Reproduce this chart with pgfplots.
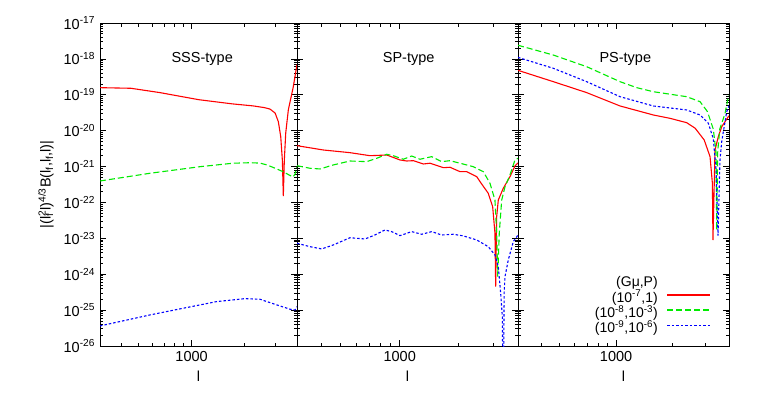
\documentclass[border=0pt]{standalone}
\usepackage{fontspec}
\setmainfont{Liberation Sans}
\usepackage{pgfplots}
\pgfplotsset{compat=1.18}
\definecolor{gpred}{RGB}{255,0,0}
\definecolor{gpgreen}{RGB}{0,235,0}
\definecolor{gpblue}{RGB}{0,0,255}

\pgfplotsset{
  rr/.style={gpred, solid, line width=1.1pt},
  gg/.style={gpgreen, dash pattern=on 6pt off 3pt, line width=1.1pt},
  bb/.style={gpblue, dash pattern=on 2.5pt off 2pt, line width=1.1pt},
}
\def\myminor{2e-26,3e-26,4e-26,5e-26,6e-26,7e-26,8e-26,9e-26,
  2e-25,3e-25,4e-25,5e-25,6e-25,7e-25,8e-25,9e-25,
  2e-24,3e-24,4e-24,5e-24,6e-24,7e-24,8e-24,9e-24,
  2e-23,3e-23,4e-23,5e-23,6e-23,7e-23,8e-23,9e-23,
  2e-22,3e-22,4e-22,5e-22,6e-22,7e-22,8e-22,9e-22,
  2e-21,3e-21,4e-21,5e-21,6e-21,7e-21,8e-21,9e-21,
  2e-20,3e-20,4e-20,5e-20,6e-20,7e-20,8e-20,9e-20,
  2e-19,3e-19,4e-19,5e-19,6e-19,7e-19,8e-19,9e-19,
  2e-18,3e-18,4e-18,5e-18,6e-18,7e-18,8e-18,9e-18}

\begin{document}
\fontsize{14.5}{17}\selectfont
\begin{tikzpicture}
\useasboundingbox (-100pt,-46pt) rectangle (663pt,346pt);

% SSS-type
\begin{axis}[xmode=log, ymode=log, scale only axis, width=197pt, height=323pt,
    anchor=south west, at={(0pt,0pt)},
    xmin=300, xmax=4000, ymin=1e-26, ymax=1e-17,
    xtick={1000}, xticklabels={1000},
    minor xtick={300,400,500,600,700,800,900,2000,3000,4000},
    ytickten={-26,...,-17}, minor ytick/.expanded={\myminor},
    major tick length=6pt, minor tick length=3.5pt,
    tick style={black, line width=0.8pt}, axis line style={line width=1pt},
    xlabel={l},
    yticklabels={10\textsuperscript{-26},10\textsuperscript{-25},10\textsuperscript{-24},10\textsuperscript{-23},10\textsuperscript{-22},10\textsuperscript{-21},10\textsuperscript{-20},10\textsuperscript{-19},10\textsuperscript{-18},10\textsuperscript{-17}},
    ylabel={|(l\rlap{\textsubscript{f}}\textsuperscript{2}l)\textsuperscript{4/3}B(l\textsubscript{f},l\textsubscript{f},l)|}]
\addplot[rr] coordinates {(300,1.58e-19) (450,1.52e-19) (660,1.15e-19) (1100,7.3e-20) (1700,5.6e-20) (2250,4.9e-20) (2600,4.4e-20) (2805,4.0e-20) (3000,3.1e-20) (3130,1.78e-20) (3230,6.8e-21) (3300,1.5e-21) (3342,1.5e-22) (3386,1.5e-21) (3449,8.6e-21) (3569,3.8e-20) (3811,1.68e-19) (4000,7.0e-19)};
\addplot[gg] coordinates {(300,3.97e-22) (579,6.51e-22) (1117,9.93e-22) (1725,1.24e-21) (2157,1.28e-21) (2459,1.25e-21) (2697,1.11e-21) (3000,9.0e-22) (3329,7.21e-22) (3650,5.65e-22) (3796,5.13e-22) (3897,6.2e-22) (4000,9.7e-22)};
\addplot[bb] coordinates {(300,3.63e-26) (579,7.35e-26) (897,1.13e-25) (1392,1.73e-25) (2020,2.09e-25) (2459,2.01e-25) (3064,1.40e-25) (3650,1.06e-25) (3897,1.01e-25) (4000,1.25e-25)};
\node at (axis cs:1150,1e-18) {SSS-type};
\end{axis}

% SP-type
\begin{axis}[xmode=log, ymode=log, scale only axis, width=221pt, height=323pt,
    anchor=south west, at={(197pt,0pt)},
    xmin=300, xmax=4000, ymin=1e-26, ymax=1e-17,
    xtick={1000}, xticklabels={1000},
    minor xtick={300,400,500,600,700,800,900,2000,3000,4000},
    ytickten={-26,...,-17}, yticklabels={}, minor ytick/.expanded={\myminor},
    major tick length=6pt, minor tick length=3.5pt,
    tick style={black, line width=0.8pt}, axis line style={line width=1pt},
    xlabel={l}]
\addplot[rr] coordinates {(300,3.82e-21) (408,2.90e-21) (558,2.44e-21) (706,2.01e-21) (859,2.10e-21) (1003,1.53e-21) (1085,1.43e-21) (1173,1.46e-21) (1318,1.18e-21) (1426,1.24e-21) (1667,9.31e-22) (1803,9.56e-22) (2027,7.21e-22) (2192,7.21e-22) (2465,5.24e-22) (2563,3.8e-22) (2823,1.8e-22) (2972,7.6e-23) (3053,1.41e-23) (3079,4.5e-25) (3115,4.0e-23) (3175,1.17e-22) (3367,2.49e-22) (3642,5.24e-22) (3861,1.04e-21) (4000,1.26e-21)};
\addplot[gg] coordinates {(300,1.06e-21) (349,8.97e-22) (393,8.58e-22) (459,1.11e-21) (558,1.43e-21) (679,1.37e-21) (763,1.70e-21) (859,2.20e-21) (927,2.01e-21) (1043,1.60e-21) (1151,1.97e-21) (1268,1.60e-21) (1455,1.89e-21) (1635,1.37e-21) (1803,1.46e-21) (2027,1.24e-21) (2369,9.93e-22) (2664,7.21e-22) (2880,3.43e-22) (3053,1.17e-22) (3115,1.41e-23) (3153,8.6e-25) (3212,1.41e-23) (3304,1.17e-22) (3435,2.75e-22) (3642,5.83e-22) (3861,1.53e-21) (4000,1.70e-21)};
\addplot[bb] coordinates {(300,7.30e-24) (349,5.87e-24) (401,5.07e-24) (459,6.55e-24) (558,1.04e-23) (666,9.61e-24) (748,1.24e-23) (841,1.71e-23) (910,1.54e-23) (1003,1.19e-23) (1151,1.54e-23) (1294,1.30e-23) (1455,1.54e-23) (1635,1.24e-23) (1874,1.30e-23) (2107,1.17e-23) (2465,9.02e-24) (2823,5.87e-24) (3053,3.45e-24) (3175,1.63e-24) (3265,2.96e-25) (3328,6.59e-26) (3367,1e-28) (3400,3e-25) (3435,8.6e-25) (3569,2.5e-24) (3785,8.1e-24) (4000,1.24e-23)};
\node at (axis cs:1110,1e-18) {SP-type};
\end{axis}

% PS-type
\begin{axis}[xmode=log, ymode=log, scale only axis, width=211pt, height=323pt,
    anchor=south west, at={(418pt,0pt)},
    xmin=300, xmax=4000, ymin=1e-26, ymax=1e-17,
    xtick={1000}, xticklabels={1000},
    minor xtick={300,400,500,600,700,800,900,2000,3000,4000},
    ytickten={-26,...,-17}, yticklabels={}, minor ytick/.expanded={\myminor},
    major tick length=6pt, minor tick length=3.5pt,
    tick style={black, line width=0.8pt}, axis line style={line width=1pt},
    xlabel={l},
    legend style={at={(0.93,0.025)}, anchor=south east, draw=none, fill=none,
      row sep=-1pt, column sep=8pt, nodes={inner sep=1pt},
      font=\fontsize{14}{16}\selectfont},
    legend cell align=right, legend plot pos=right,
    legend image code/.code={\draw[#1, line width=1.3pt] (0pt,0.3ex) -- (43pt,0.3ex);}]
\addlegendimage{empty legend}
\addlegendentry{(Gμ,P)}
\addplot[rr] coordinates {(300,4.8e-19) (463,2.32e-19) (697,1.15e-19) (1050,4.88e-20) (1579,2.74e-20) (1939,2.21e-20) (2380,1.67e-20) (2640,1.17e-20) (2950,5.51e-21) (3169,1.89e-21) (3262,3.43e-22) (3285,9.0e-24) (3369,2.9e-21) (3508,6.81e-21) (3658,1.29e-20) (3966,2.45e-20) (4000,2.6e-20)};
\addlegendentry{(10\textsuperscript{-7},1)}
\addplot[gg] coordinates {(300,2.4e-18) (463,1.28e-18) (697,6.07e-19) (1050,2.32e-19) (1288,1.58e-19) (1579,1.22e-19) (2380,8.85e-20) (2803,6.43e-20) (3070,3.4e-20) (3299,1.1e-20) (3411,2.5e-21) (3440,1.7e-23) (3480,2.5e-21) (3570,1.1e-20) (3809,3.0e-20) (3966,8.85e-20) (4000,9.5e-20)};
\addlegendentry{(10\textsuperscript{-8},10\textsuperscript{-3})}
\addplot[bb] coordinates {(300,1.1e-18) (463,5.47e-19) (697,2.32e-19) (1050,8.85e-20) (1579,4.88e-20) (2380,3.78e-20) (2803,2.74e-20) (3103,1.61e-20) (3299,6e-21) (3411,8e-22) (3495,1.2e-23) (3580,1.5e-21) (3658,5e-21) (3890,3.4e-20) (4000,4.9e-20)};
\addlegendentry{(10\textsuperscript{-9},10\textsuperscript{-6})}
\node at (axis cs:1120,1e-18) {PS-type};
\end{axis}
\end{tikzpicture}
\end{document}
